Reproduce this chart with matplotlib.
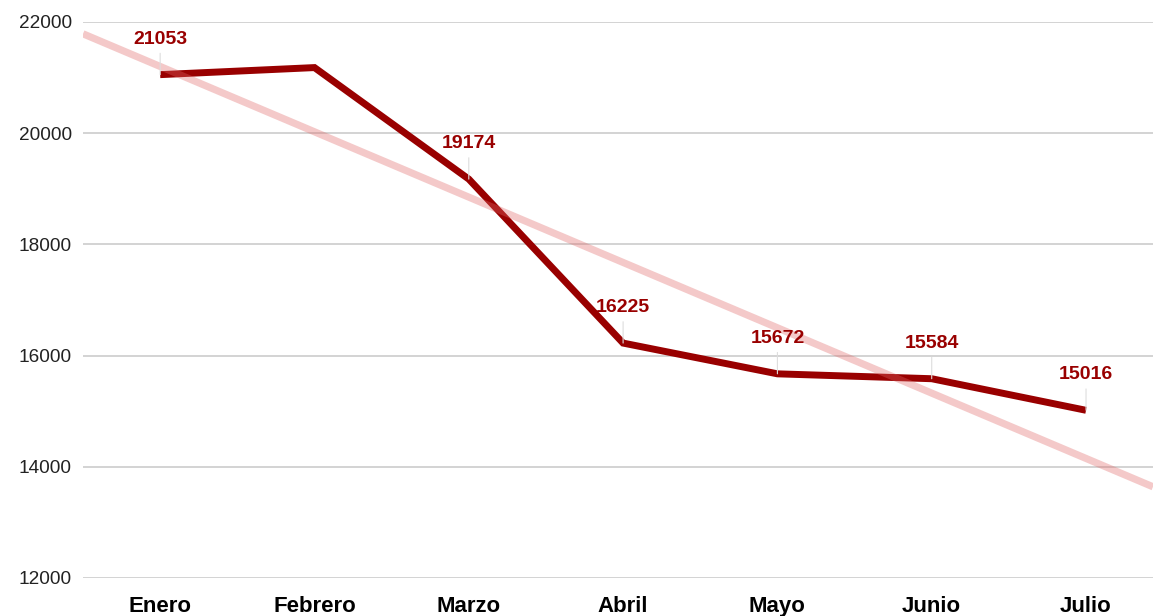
import matplotlib
matplotlib.use("Agg")
import matplotlib.pyplot as plt
import numpy as np

# ---- data ----
months = ["Enero", "Febrero", "Marzo", "Abril", "Mayo", "Junio", "Julio"]
values = [21053, 21180, 19174, 16225, 15672, 15584, 15016]
show_label = [True, False, True, True, True, True, True]
trend_first_last = [21200, 14150]   # trendline value at Enero and at Julio
y_ticks = [12000, 14000, 16000, 18000, 20000, 22000]

LINE_COLOR = "#990000"
TREND_COLOR = "#e06666"

plt.rcParams["font.family"] = ["Liberation Sans", "DejaVu Sans"]

fig = plt.figure(figsize=(11.53, 6.16), dpi=100)
ax = fig.add_axes([0.072, 0.0617, 0.928, 0.9026])

x = np.arange(len(months))
xlim = (-0.5, 6.434)
ax.set_xlim(*xlim)
ax.set_ylim(y_ticks[0], y_ticks[-1])

# gridlines
ax.set_yticks(y_ticks)
ax.yaxis.grid(True, color="#cccccc", linewidth=1.2)
ax.set_axisbelow(True)

# main series
ax.plot(x, values, color=LINE_COLOR, linewidth=5.0, solid_joinstyle="miter",
        solid_capstyle="butt", zorder=3)

# trendline (linear through the read-off values at first and last month)
slope = (trend_first_last[1] - trend_first_last[0]) / (x[-1] - x[0])
tx = np.array(xlim)
ty = trend_first_last[0] + slope * (tx - x[0])
ax.plot(tx, ty, color=TREND_COLOR, alpha=0.35, linewidth=5.2,
        solid_capstyle="butt", zorder=4, clip_on=True)

# data labels with leader lines
for xi, v, show in zip(x, values, show_label):
    if not show:
        continue
    ax.annotate(str(v), xy=(xi, v), xytext=(0, 25.5), textcoords="offset points",
                ha="center", va="center", fontsize=14, fontweight="bold",
                color=LINE_COLOR, zorder=5,
                arrowprops=dict(arrowstyle="-", color="#dddddd", lw=0.8,
                                shrinkA=2, shrinkB=0))

# axes styling
for s in ax.spines.values():
    s.set_visible(False)
ax.set_xticks(x)
ax.set_xticklabels(months, fontsize=16, fontweight="bold", color="#000000")
ax.set_yticklabels([str(t) for t in y_ticks], fontsize=13.7, color="#222222")
ax.tick_params(axis="both", length=0)
ax.tick_params(axis="y", pad=8)
ax.tick_params(axis="x", pad=13)

fig.savefig("out.png", dpi=100, facecolor="white")
